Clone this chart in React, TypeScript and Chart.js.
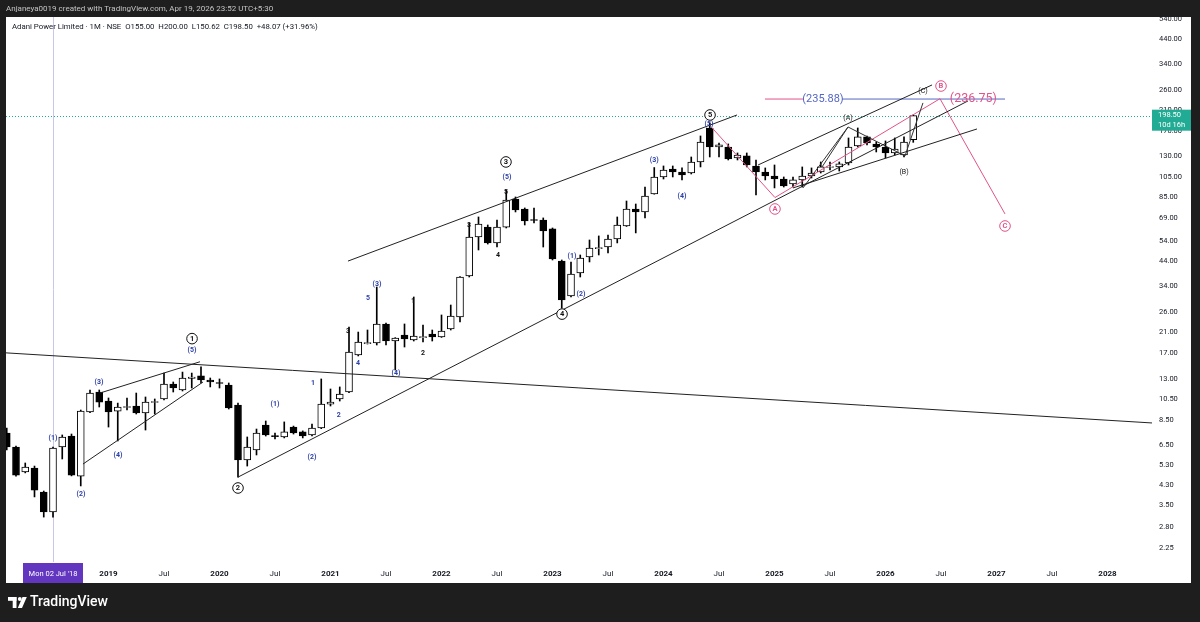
import React, { useEffect, useRef } from 'react';
import { Chart, registerables } from 'chart.js';

Chart.register(...registerables);

const FONT = 'Roboto, "Liberation Sans", sans-serif';

// Month index: 0 = Jan 2018. First candle = Feb 2018.
const firstMonth = 1;
const opens = [
  7.40, 6.41, 4.95, 5.15, 4.02, 3.27, 6.41, 7.18, 4.74, 9.21, 11.33,
  10.32, 9.30, 9.65, 9.80, 9.12, 10.16, 10.54, 12.31, 11.57, 13.03, 13.38, 12.83,
  12.50, 12.18, 9.90, 5.60, 6.21, 8.05, 7.22, 7.11, 7.88, 7.49, 7.26, 7.80,
  10.00, 10.54, 11.33, 16.63, 18.72, 18.82, 22.93, 19.22, 20.46, 19.42, 19.92, 20.67,
  20.04, 21.77, 24.66, 37.70, 56.49, 62.60, 53.10, 62.60, 83.75, 75.50, 67.70, 67.37,
  61.40, 44.05, 30.65, 38.90, 45.90, 50.10, 50.90, 55.30, 63.30, 75.50, 73.20, 88.20,
  105.20, 114.30, 110.80, 109.70, 122.90, 174.80, 143.50, 143.50, 128.10, 130.80, 117.90, 110.80,
  106.30, 103.00, 97.80, 102.00, 106.30, 110.80, 116.10, 116.70, 121.60, 145.10, 159.30, 148.10,
  143.50, 134.90, 132.10, 155.00,
];
const highs = [
  7.80, 6.47, 5.43, 5.26, 4.06, 6.41, 7.26, 7.33, 9.40, 11.57, 11.57,
  10.65, 10.10, 10.65, 11.21, 10.76, 10.54, 13.79, 12.57, 13.93, 13.79, 14.69, 13.10,
  12.97, 12.44, 10.10, 7.11, 7.72, 8.39, 7.41, 8.31, 7.96, 7.57, 8.13, 12.97,
  11.69, 11.94, 22.22, 21.09, 21.54, 33.63, 23.17, 19.90, 22.93, 30.33, 22.69, 21.54,
  25.17, 27.91, 37.50, 65.30, 69.50, 63.96, 67.37, 91.93, 85.50, 76.30, 76.30, 68.80,
  62.00, 44.50, 43.60, 46.87, 54.75, 57.10, 57.66, 69.50, 82.00, 79.50, 94.80, 116.00,
  117.90, 117.90, 115.50, 129.40, 160.90, 184.10, 149.60, 148.10, 134.90, 134.90, 125.45, 115.50,
  119.10, 105.20, 105.20, 116.70, 115.50, 122.90, 122.90, 122.90, 157.60, 174.80, 160.90, 151.20,
  152.80, 157.60, 159.30, 200.00,
];
const lows = [
  6.21, 4.74, 4.90, 3.82, 3.10, 3.10, 5.66, 4.75, 4.28, 9.15, 9.70,
  7.88, 6.82, 9.40, 9.02, 7.64, 9.02, 10.43, 11.33, 11.45, 11.81, 12.44, 11.94,
  11.81, 9.50, 4.69, 5.26, 5.90, 7.18, 6.96, 7.04, 7.33, 7.04, 7.18, 7.75,
  9.80, 10.32, 11.25, 16.46, 18.63, 18.44, 18.44, 14.23, 18.06, 19.22, 19.02, 19.22,
  19.95, 21.54, 23.41, 37.31, 49.36, 52.50, 50.90, 62.00, 73.20, 63.96, 65.30, 50.90,
  44.50, 27.00, 30.33, 37.31, 43.60, 46.87, 47.85, 53.10, 63.00, 58.90, 68.80, 88.00,
  103.00, 105.20, 101.97, 108.50, 116.70, 129.40, 129.40, 125.45, 125.45, 116.70, 87.30, 102.00,
  93.90, 94.80, 94.80, 94.80, 104.10, 109.60, 113.10, 111.90, 119.10, 143.50, 146.60, 136.30,
  128.10, 132.10, 129.40, 150.62,
];
const closes = [
  6.41, 4.79, 5.21, 4.10, 3.27, 6.34, 7.11, 4.79, 9.30, 11.21, 10.21,
  9.21, 9.70, 9.75, 9.12, 10.21, 10.27, 12.31, 11.81, 13.10, 13.24, 12.83, 12.57,
  12.37, 9.60, 5.60, 6.41, 7.41, 7.26, 7.14, 7.49, 7.41, 7.18, 7.80, 10.00,
  10.21, 11.10, 17.15, 19.02, 18.91, 22.93, 19.22, 19.82, 19.62, 20.25, 20.13, 20.04,
  21.32, 24.91, 37.31, 56.49, 64.60, 53.10, 62.60, 82.88, 74.72, 66.70, 67.00, 60.10,
  44.96, 29.40, 38.49, 45.40, 50.40, 50.60, 55.30, 63.96, 75.50, 73.20, 86.40, 105.20,
  113.10, 110.80, 107.40, 122.90, 151.20, 143.50, 146.60, 126.80, 132.10, 119.10, 110.80, 106.30,
  103.00, 95.80, 102.00, 106.30, 109.60, 116.70, 117.30, 120.40, 143.50, 159.30, 149.60, 143.50,
  134.90, 140.60, 151.20, 198.50,
];

const timeTickMonths = [12, 18, 24, 30, 36, 42, 48, 54, 60, 66, 72, 78, 84, 90, 96, 102, 108, 114, 120];
const timeTickLabels = ['2019', 'Jul', '2020', 'Jul', '2021', 'Jul', '2022', 'Jul', '2023', 'Jul', '2024', 'Jul', '2025', 'Jul', '2026', 'Jul', '2027', 'Jul', '2028'];
const priceTicks = [2.25, 2.8, 3.5, 4.3, 5.3, 6.5, 8.5, 10.5, 13, 17, 21, 26, 34, 44, 54, 69, 85, 105, 130, 170, 210, 260, 340, 440, 540];

const xMin = 0.919;
const xMax = 124.81;
const yMin = 1.9461;
const yMax = 551.98;

const lastPrice = 198.5;
const crosshairMonth = 6;
const crosshairLabel = "Mon 02 Jul '18";
const headerText = 'Anjaneya0019 created with TradingView.com, Apr 19, 2026 23:52 UTC+5:30';
const legendText = 'Adani Power Limited · 1M · NSE  O155.00  H200.00  L150.62  C198.50  +48.07 (+31.96%)';

// drawings: [month, price]
const longDownLine = [[0.9, 17.0], [124.81, 8.22]];
const wedgeUpper = [[11.08, 11.21], [21.89, 15.5]];
const wedgeLower = [[9.24, 5.37], [22.22, 12.57]];
const channelLower = [[26.0, 4.69], [104.92, 231.3]];
const channelUpper = [[37.89, 44.0], [79.95, 200.0]];
const channel2Upper = [[82.22, 119.1], [101.03, 273.0]];
const channel2Lower = [[86.0, 93.9], [105.89, 173.0]];
const abcZigzag = [[87.08, 93.9], [91.95, 176.6], [98.11, 130.8], [100.05, 226.6]];
const abcLeg = [[89.14, 116.7], [91.95, 176.6]];
const pinkProjection = [[77.2, 176.0], [84.05, 85.0], [101.89, 236.75], [108.92, 71.7]];
const pinkLevel = [[82.97, 235.88], [87.08, 235.88]];
const blueLevel = [[91.3, 235.88], [108.92, 235.88]];

const BLUE = '#2b3fa8';
const PINK = '#e2538a';
const LEVEL_BLUE = '#5466c4';

// [text, month, price]
const blueWaveLabels: [string, number, number][] = [
  ['(1)', 6.0, 7.04], ['(2)', 9.03, 3.94], ['(3)', 10.97, 12.57], ['(4)', 13.03, 5.9], ['(5)', 21.03, 17.51],
  ['(1)', 30.0, 10.0], ['(2)', 34.0, 5.78], ['1', 34.1, 12.43], ['2', 36.9, 8.93], ['4', 38.97, 15.3],
  ['5', 40.05, 30.0], ['(3)', 41.03, 34.7], ['(4)', 43.08, 13.8],
  ['(5)', 55.08, 105.2], ['(1)', 62.1, 46.4], ['(2)', 63.08, 31.3], ['(3)', 71.0, 125.45], ['(4)', 74.0, 86.4], ['(5)', 76.92, 182.2],
];
const blackWaveLabels: [string, number, number][] = [
  ['3', 37.9, 21.3], ['1', 44.92, 29.1], ['2', 46.0, 17.0], ['3', 50.97, 64.0], ['4', 54.1, 46.9], ['5', 54.97, 90.0],
];
const correctionLabels: [string, number, number][] = [
  ['(A)', 91.95, 193.8], ['(B)', 98.0, 110.8], ['(C)', 100.05, 256.4],
];
const circledBlack: [string, number, number][] = [
  ['1', 21.03, 19.7], ['2', 26.0, 4.19], ['3', 54.97, 122.9], ['4', 61.03, 25.4], ['5', 77.03, 200.0],
];
const circledPink: [string, number, number][] = [
  ['A', 84.05, 75.5], ['B', 102.0, 270.0], ['C', 108.92, 63.3],
];
const levelTexts: [string, number, number, string, number][] = [
  ['(235.88)', 89.24, 235.88, LEVEL_BLUE, 11],
  ['(236.75)', 105.5, 236.75, PINK, 12.5],
];

function lineDs(pts: number[][], color: string, width = 1) {
  return {
    type: 'line' as const,
    data: pts.map(([m, p]) => ({ x: m, y: p })),
    borderColor: color,
    borderWidth: width,
    pointRadius: 0,
    fill: false,
    tension: 0,
    order: 0,
  };
}

const overlayPlugin = {
  id: 'overlay',
  beforeDraw(chart: any) {
    const { ctx, width, height } = chart;
    ctx.save();
    ctx.fillStyle = '#1e1e1e';
    ctx.fillRect(0, 0, width, height);
    ctx.fillStyle = '#ffffff';
    ctx.fillRect(6, 17, 1185, 566);
    ctx.restore();
  },
  beforeDatasetsDraw(chart: any) {
    const { ctx, chartArea, scales } = chart;
    const x = scales.x, y = scales.y;
    ctx.save();
    const cx = Math.round(x.getPixelForValue(crosshairMonth)) + 0.5;
    ctx.strokeStyle = '#c9c6ee';
    ctx.lineWidth = 1;
    ctx.beginPath();
    ctx.moveTo(cx, chartArea.top);
    ctx.lineTo(cx, chartArea.bottom);
    ctx.stroke();
    const py = Math.round(y.getPixelForValue(lastPrice)) + 0.5;
    ctx.strokeStyle = '#22ab94';
    ctx.setLineDash([1, 2]);
    ctx.beginPath();
    ctx.moveTo(chartArea.left, py);
    ctx.lineTo(chartArea.right, py);
    ctx.stroke();
    ctx.restore();
  },
  afterDatasetsDraw(chart: any) {
    const { ctx, chartArea, scales } = chart;
    const x = scales.x, y = scales.y;
    ctx.save();
    ctx.beginPath();
    ctx.rect(chartArea.left, chartArea.top, chartArea.right - chartArea.left, chartArea.bottom - chartArea.top);
    ctx.clip();
    ctx.textAlign = 'center';
    ctx.textBaseline = 'middle';
    ctx.font = `bold 7px ${FONT}`;
    ctx.fillStyle = BLUE;
    blueWaveLabels.forEach(([t, m, p]) => ctx.fillText(t, x.getPixelForValue(m), y.getPixelForValue(p)));
    ctx.fillStyle = '#111111';
    blackWaveLabels.forEach(([t, m, p]) => ctx.fillText(t, x.getPixelForValue(m), y.getPixelForValue(p)));
    ctx.font = `7px ${FONT}`;
    correctionLabels.forEach(([t, m, p]) => ctx.fillText(t, x.getPixelForValue(m), y.getPixelForValue(p)));
    const circle = (t: string, m: number, p: number, color: string) => {
      const px = x.getPixelForValue(m), pyy = y.getPixelForValue(p);
      ctx.beginPath();
      ctx.arc(px, pyy, 5.3, 0, Math.PI * 2);
      ctx.fillStyle = '#ffffff';
      ctx.fill();
      ctx.lineWidth = 1;
      ctx.strokeStyle = color;
      ctx.stroke();
      ctx.fillStyle = color;
      ctx.font = `bold 7.5px ${FONT}`;
      ctx.fillText(t, px, pyy + 0.5);
    };
    circledBlack.forEach(([t, m, p]) => circle(t, m, p, '#111111'));
    circledPink.forEach(([t, m, p]) => circle(t, m, p, PINK));
    levelTexts.forEach(([t, m, p, c, s]) => {
      ctx.font = `${s}px ${FONT}`;
      ctx.fillStyle = c;
      ctx.fillText(t, x.getPixelForValue(m), y.getPixelForValue(p));
    });
    ctx.restore();
  },
  afterDraw(chart: any) {
    const { ctx, width, scales } = chart;
    const x = scales.x, y = scales.y;
    ctx.save();
    // header bar
    ctx.fillStyle = '#1e1e1e';
    ctx.fillRect(0, 0, width, 17);
    ctx.fillStyle = '#c4c4c4';
    ctx.font = `8px ${FONT}`;
    ctx.textAlign = 'left';
    ctx.textBaseline = 'middle';
    ctx.fillText(headerText, 6, 9);
    // legend
    ctx.fillStyle = '#131722';
    ctx.font = `7.8px ${FONT}`;
    ctx.fillText(legendText, 12, 27);
    // price badge
    const py = y.getPixelForValue(lastPrice);
    ctx.fillStyle = '#22ab94';
    ctx.fillRect(1152, py - 6, 39, 21);
    ctx.fillStyle = '#ffffff';
    ctx.font = `7.5px ${FONT}`;
    ctx.fillText('198.50', 1158, py - 0.5);
    ctx.fillText('10d 16h', 1158, py + 9);
    // crosshair time label
    const cx = x.getPixelForValue(crosshairMonth);
    ctx.fillStyle = '#6236be';
    ctx.fillRect(cx - 30, 563, 60, 20);
    ctx.fillStyle = '#ffffff';
    ctx.textAlign = 'center';
    ctx.font = `7.5px ${FONT}`;
    ctx.fillText(crosshairLabel, cx, 574);
    // footer logo
    ctx.fillStyle = '#ffffff';
    ctx.fillRect(8, 597, 8.5, 3.8);
    ctx.fillRect(12.7, 597, 3.8, 11);
    ctx.beginPath();
    ctx.arc(19.8, 599, 1.9, 0, Math.PI * 2);
    ctx.fill();
    ctx.beginPath();
    ctx.moveTo(22.5, 597);
    ctx.lineTo(26.8, 597);
    ctx.lineTo(22, 608);
    ctx.lineTo(17.8, 608);
    ctx.closePath();
    ctx.fill();
    ctx.textAlign = 'left';
    ctx.font = `500 14px ${FONT}`;
    ctx.fillText('TradingView', 30, 602.5);
    ctx.restore();
  },
};

export default function App() {
  const ref = useRef<HTMLCanvasElement>(null);
  useEffect(() => {
    const canvas = ref.current;
    if (!canvas) return;
    const months = opens.map((_, i) => firstMonth + i);
    const bodyColors = opens.map((o, i) => (closes[i] >= o ? '#ffffff' : '#000000'));
    const chart = new Chart(canvas, {
      type: 'bar',
      data: {
        datasets: [
          lineDs(longDownLine, '#222222'),
          lineDs(wedgeUpper, '#222222'),
          lineDs(wedgeLower, '#222222'),
          lineDs(channelLower, '#222222'),
          lineDs(channelUpper, '#222222'),
          lineDs(channel2Upper, '#222222'),
          lineDs(channel2Lower, '#222222'),
          lineDs(abcZigzag, '#333333'),
          lineDs(abcLeg, '#333333'),
          lineDs(pinkProjection, PINK),
          lineDs(pinkLevel, PINK),
          lineDs(blueLevel, LEVEL_BLUE),
          {
            type: 'bar',
            data: months.map((m, i) => ({ x: m, y: [opens[i], closes[i]] })),
            backgroundColor: bodyColors,
            borderColor: '#000000',
            borderWidth: 1,
            borderSkipped: false,
            barThickness: 7,
            grouped: false,
            order: 1,
          } as any,
          {
            type: 'bar',
            data: months.map((m, i) => ({ x: m, y: [lows[i], highs[i]] })),
            backgroundColor: '#000000',
            borderWidth: 0,
            barThickness: 1,
            grouped: false,
            order: 2,
          } as any,
        ] as any,
      },
      options: {
        responsive: false,
        maintainAspectRatio: false,
        devicePixelRatio: 1,
        animation: false,
        events: [],
        layout: { padding: { left: 6, top: 17, right: 9, bottom: 39 } },
        plugins: { legend: { display: false }, tooltip: { enabled: false } },
        scales: {
          x: {
            type: 'linear',
            position: 'bottom',
            min: xMin,
            max: xMax,
            bounds: 'data',
            offset: false,
            grid: { display: false, drawTicks: false },
            border: { display: false },
            afterBuildTicks: (s: any) => {
              s.ticks = timeTickMonths.map((v) => ({ value: v }));
            },
            afterFit: (s: any) => {
              s.height = 21;
            },
            ticks: {
              autoSkip: false,
              maxRotation: 0,
              padding: 7,
              color: '#131722',
              font: (c: any) => ({
                family: FONT,
                size: 8,
                weight: c.tick && c.tick.value % 12 === 0 ? 'bold' : 'normal',
              }),
              callback: (v: any) => {
                const i = timeTickMonths.indexOf(Number(v));
                return i >= 0 ? timeTickLabels[i] : '';
              },
            },
          } as any,
          y: {
            type: 'logarithmic',
            position: 'right',
            min: yMin,
            max: yMax,
            bounds: 'data',
            beginAtZero: false,
            grid: { display: false, drawTicks: false },
            border: { display: false },
            afterBuildTicks: (s: any) => {
              s.ticks = priceTicks.map((v) => ({ value: v }));
            },
            afterFit: (s: any) => {
              s.width = 39;
            },
            ticks: {
              autoSkip: false,
              padding: 7,
              color: '#131722',
              font: { family: FONT, size: 7.5 },
              callback: (v: any) => Number(v).toFixed(2),
            },
          } as any,
        },
      },
      plugins: [overlayPlugin],
    } as any);
    return () => chart.destroy();
  }, []);
  return (
    <div style={{ position: 'absolute', left: 0, top: 0, width: 1200, height: 622 }}>
      <canvas ref={ref} width={1200} height={622} style={{ display: 'block', width: 1200, height: 622 }} />
    </div>
  );
}
